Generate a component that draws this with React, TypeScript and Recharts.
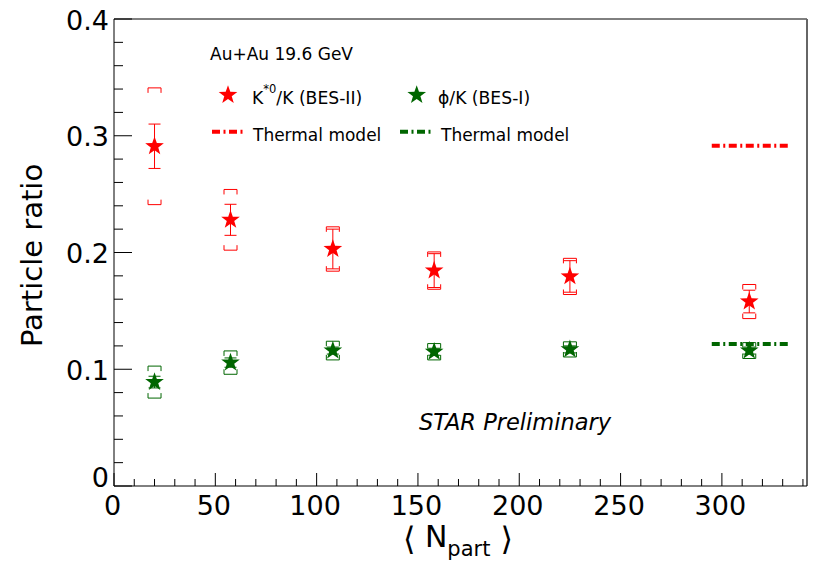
import React from "react"
import { ScatterChart, Scatter, XAxis, YAxis, ErrorBar, ReferenceLine } from "recharts"

// <Npart> centrality bins, Au+Au 19.6 GeV
const nPart = [20, 57.5, 108, 158, 225, 313.5]

// K*0/K (BES-II)
const kstarRatio = [0.291, 0.228, 0.203, 0.1845, 0.1795, 0.158]
const kstarStat = [0.019, 0.0133, 0.017, 0.0145, 0.0135, 0.0097]
const kstarSys = [0.05, 0.026, 0.019, 0.016, 0.0155, 0.0146]

// phi/K (BES-I)
const phiRatio = [0.089, 0.1057, 0.116, 0.115, 0.117, 0.116]
const phiStat = [0.005, 0.004, 0.003, 0.003, 0.003, 0.003]
const phiSys = [0.0137, 0.01, 0.008, 0.007, 0.0065, 0.0068]

// thermal model predictions, drawn over the most central range
const thermalRange = [295, 334]
const thermalKstar = 0.2915
const thermalPhi = 0.1217

const xMajorTicks = [0, 50, 100, 150, 200, 250, 300]
const xTicks = [0, 10, 20, 30, 40, 50, 60, 70, 80, 90, 100, 110, 120, 130, 140, 150, 160, 170, 180, 190, 200, 210, 220, 230, 240, 250, 260, 270, 280, 290, 300, 310, 320, 330, 340]
const yMajorTicks = [0, 0.1, 0.2, 0.3, 0.4]
const yTickLabels = ["0", "0.1", "0.2", "0.3", "0.4"]
const yTicks = [0, 0.02, 0.04, 0.06, 0.08, 0.1, 0.12, 0.14, 0.16, 0.18, 0.2, 0.22, 0.24, 0.26, 0.28, 0.3, 0.32, 0.34, 0.36, 0.38, 0.4]

const RED = "#ff0000"
const GREEN = "#006600"
const FONT = "'DejaVu Sans', 'Liberation Sans', Arial, sans-serif"
const THERMAL_DASH = "8 3.5 2 3.5"

const kstarPoints = nPart.map((x, i) => ({ x, y: kstarRatio[i], stat: kstarStat[i] }))
const kstarSysHigh = nPart.map((x, i) => ({ x, y: kstarRatio[i] + kstarSys[i] }))
const kstarSysLow = nPart.map((x, i) => ({ x, y: kstarRatio[i] - kstarSys[i] }))
const phiPoints = nPart.map((x, i) => ({ x, y: phiRatio[i], stat: phiStat[i] }))
const phiSysHigh = nPart.map((x, i) => ({ x, y: phiRatio[i] + phiSys[i] }))
const phiSysLow = nPart.map((x, i) => ({ x, y: phiRatio[i] - phiSys[i] }))

function StarMarker({ cx, cy, fill, r = 9.8 }: { cx: number; cy: number; fill: string; r?: number }) {
  const pts: string[] = []
  for (let k = 0; k < 10; k++) {
    const rad = k % 2 === 0 ? r : r * 0.4
    const a = -Math.PI / 2 + (k * Math.PI) / 5
    pts.push(`${cx + rad * Math.cos(a)},${cy + rad * Math.sin(a)}`)
  }
  return <polygon points={pts.join(" ")} fill={fill} />
}

// systematic error bracket, legs point back toward the data point
function Bracket({ cx, cy, stroke, up }: { cx: number; cy: number; stroke: string; up: boolean }) {
  const w = 6.5
  const leg = up ? -5 : 5
  return (
    <polyline
      points={`${cx - w},${cy + leg} ${cx - w},${cy} ${cx + w},${cy} ${cx + w},${cy + leg}`}
      fill="none"
      stroke={stroke}
      strokeWidth={1}
    />
  )
}

const XTick = (props: any) => {
  const { x, y, payload } = props
  const major = xMajorTicks.includes(payload.value)
  return (
    <g>
      <line x1={x} x2={x} y1={y} y2={y - (major ? 13 : 7)} stroke="#000" />
      {major && (
        <text x={x - 1.5} y={y + 29} textAnchor="middle" fontSize={27} fontFamily={FONT} fill="#000">
          {payload.value}
        </text>
      )}
    </g>
  )
}

const YTick = (props: any) => {
  const { x, y, payload } = props
  const idx = yMajorTicks.indexOf(payload.value)
  const major = idx >= 0
  return (
    <g>
      <line x1={x} x2={x + (major ? 18 : 9)} y1={y} y2={y} stroke="#000" />
      {major && (
        <text x={x - 5} y={y + (payload.value === 0 ? 1 : 10.5)} textAnchor="end" fontSize={27} fontFamily={FONT} fill="#000">
          {yTickLabels[idx]}
        </text>
      )}
    </g>
  )
}

function Overlay() {
  return (
    <svg width={813} height={563} style={{ position: "absolute", left: 0, top: 0, pointerEvents: "none" }}>
      <g fontFamily={FONT} fill="#000">
        <text x={210} y={60} fontSize={17}>Au+Au 19.6 GeV</text>

        <StarMarker cx={228} cy={95} fill={RED} />
        <text x={252} y={104} fontSize={17.2}>
          K<tspan fontSize={11.5} dy={-11}>*0</tspan>
          <tspan dy={11}>/K (BES-II)</tspan>
        </text>
        <StarMarker cx={416.7} cy={95} fill={GREEN} />
        <text x={438} y={104} fontSize={17.2}>ϕ/K (BES-I)</text>

        <line x1={212} x2={243} y1={131.7} y2={131.7} stroke={RED} strokeWidth={4} strokeDasharray={THERMAL_DASH} />
        <text x={253} y={141} fontSize={17}>Thermal model</text>
        <line x1={400} x2={431} y1={131.7} y2={131.7} stroke={GREEN} strokeWidth={4} strokeDasharray={THERMAL_DASH} />
        <text x={441} y={141} fontSize={17}>Thermal model</text>

        <text x={419} y={429.5} fontSize={22.5} fontStyle="italic">STAR Preliminary</text>

        <text x={42} y={255.5} fontSize={29} textAnchor="middle" transform="rotate(-90 42 255.5)">
          Particle ratio
        </text>
        <text x={458} y={547} fontSize={30} textAnchor="middle">
          <tspan fontSize={32} dy={3}>⟨</tspan>
          <tspan dy={-3}> N</tspan>
          <tspan fontSize={21} dy={9}>part</tspan>
          <tspan fontSize={32} dy={-6}> ⟩</tspan>
        </text>
      </g>
    </svg>
  )
}

export default function App() {
  return (
    <div style={{ position: "fixed", left: 0, top: 0, width: 813, height: 563, background: "#fff" }}>
      <ScatterChart width={813} height={563} margin={{ top: 19, right: 6, bottom: 47, left: 54 }}>
        <XAxis
          type="number"
          dataKey="x"
          domain={[0, 342]}
          ticks={xTicks}
          interval={0}
          tick={XTick}
          tickLine={false}
          tickSize={0}
          tickMargin={0}
          height={30}
          axisLine={{ stroke: "#000" }}
          allowDataOverflow
        />
        <YAxis
          type="number"
          dataKey="y"
          domain={[0, 0.4]}
          ticks={yTicks}
          interval={0}
          tick={YTick}
          tickLine={false}
          tickSize={0}
          tickMargin={0}
          width={60}
          axisLine={{ stroke: "#000" }}
          allowDataOverflow
        />
        {/* frame */}
        <ReferenceLine y={0.4} stroke="#000" strokeWidth={1} />
        <ReferenceLine x={342} stroke="#666" strokeWidth={2} />

        <ReferenceLine
          segment={[{ x: thermalRange[0], y: thermalKstar }, { x: thermalRange[1], y: thermalKstar }]}
          stroke={RED}
          strokeWidth={4}
          strokeDasharray={THERMAL_DASH}
        />
        <ReferenceLine
          segment={[{ x: thermalRange[0], y: thermalPhi }, { x: thermalRange[1], y: thermalPhi }]}
          stroke={GREEN}
          strokeWidth={4}
          strokeDasharray={THERMAL_DASH}
        />

        <Scatter data={kstarSysHigh} isAnimationActive={false} shape={(p: any) => <Bracket cx={p.cx} cy={p.cy} stroke={RED} up={false} />} />
        <Scatter data={kstarSysLow} isAnimationActive={false} shape={(p: any) => <Bracket cx={p.cx} cy={p.cy} stroke={RED} up={true} />} />
        <Scatter data={phiSysHigh} isAnimationActive={false} shape={(p: any) => <Bracket cx={p.cx} cy={p.cy} stroke={GREEN} up={false} />} />
        <Scatter data={phiSysLow} isAnimationActive={false} shape={(p: any) => <Bracket cx={p.cx} cy={p.cy} stroke={GREEN} up={true} />} />

        <Scatter data={kstarPoints} isAnimationActive={false} shape={(p: any) => <StarMarker cx={p.cx} cy={p.cy} fill={RED} />}>
          <ErrorBar dataKey="stat" direction="y" width={6} stroke={RED} strokeWidth={1} isAnimationActive={false} />
        </Scatter>
        <Scatter data={phiPoints} isAnimationActive={false} shape={(p: any) => <StarMarker cx={p.cx} cy={p.cy} fill={GREEN} />}>
          <ErrorBar dataKey="stat" direction="y" width={6} stroke={GREEN} strokeWidth={1} isAnimationActive={false} />
        </Scatter>
      </ScatterChart>
      <Overlay />
    </div>
  )
}
